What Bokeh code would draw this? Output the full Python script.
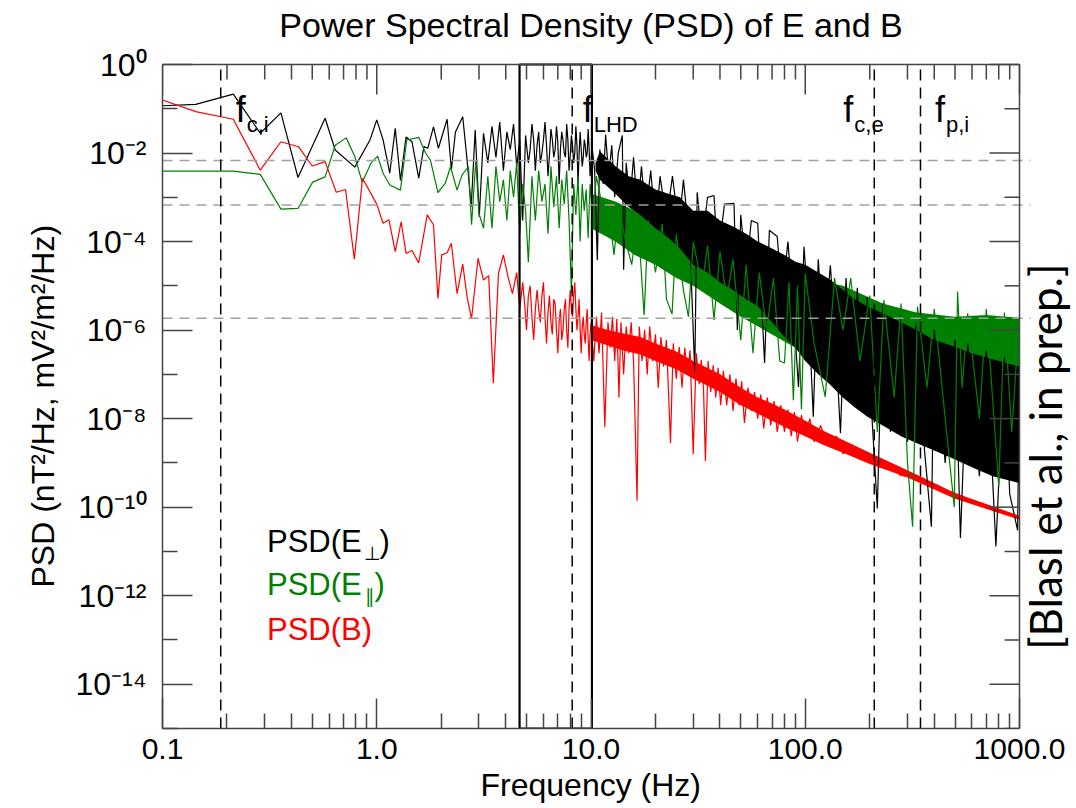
import math
from bokeh.plotting import figure
from bokeh.models import Label, FixedTicker, Title
from bokeh.embed import file_html
from bokeh.resources import INLINE

# ---------------- data ----------------
# PSD(E_perp), black: (frequency [Hz], PSD)
eperp = [
    (0.1, 0.117), (0.143, 0.126), (0.214, 0.215), (0.286, 0.028), (0.357, 0.081),
    (0.429, 0.0028), (0.574, 0.061), (0.64, 0.0117), (0.79, 0.0048), (0.93, 0.0197),
    (1.0, 0.056), (1.07, 0.02), (1.15, 0.0035), (1.22, 0.036), (1.29, 0.0024),
    (1.37, 0.023), (1.46, 0.018), (1.57, 0.0027), (1.66, 0.014), (1.73, 0.0128),
    (1.84, 0.039), (1.94, 0.0128), (2.13, 0.058), (2.23, 0.0042), (2.33, 0.030),
    (2.52, 0.066), (2.64, 0.0069), (2.76, 0.00061), (2.88, 0.033), (3.01, 0.00036),
    (3.15, 0.028), (3.3, 0.006), (3.45, 0.04), (3.6, 0.008), (3.75, 0.05),
    (3.9, 0.004), (4.05, 0.03), (4.2, 0.012), (4.35, 0.045), (4.5, 0.005),
    (4.65, 0.02), (4.8, 0.0003), (4.95, 0.025), (5.1, 0.006), (5.2, 0.012),
    (5.3, 0.045), (5.4, 0.02), (5.5, 0.004), (5.6, 0.015), (5.7, 0.03),
    (5.8, 0.006), (5.9, 0.01), (6.0, 0.02), (6.1, 0.05), (6.2, 0.015),
    (6.3, 0.003), (6.4, 0.009), (6.5, 0.035), (6.6, 0.02), (6.7, 0.008),
    (6.8, 0.012), (6.9, 0.04), (7.0, 0.018), (7.1, 0.002), (7.2, 0.012),
    (7.3, 0.03), (7.4, 0.02), (7.5, 0.01), (7.6, 0.008), (7.7, 0.045),
    (7.8, 0.02), (7.9, 0.004), (8.0, 0.009), (8.1, 0.025), (8.2, 0.015),
    (8.3, 0.006), (8.4, 0.01), (8.5, 0.04), (8.6, 0.015), (8.7, 0.002),
    (8.8, 0.01), (8.9, 0.03), (9.0, 0.012), (9.1, 0.005), (9.2, 0.008),
    (9.3, 0.02), (9.4, 0.015), (9.5, 0.008), (9.6, 0.01), (9.7, 0.035),
    (9.8, 0.012), (9.9, 0.003), (10.0, 0.006), (10.1, 0.015), (10.4, 0.004),
    (10.7, 3.8e-5), (11.0, 0.012), (11.4, 0.002), (11.7, 0.026), (12.1, 0.003),
    (12.5, 0.015), (12.9, 0.001), (13.4, 0.01), (14.0, 0.025), (14.2, 2.3e-5),
    (14.6, 0.006), (15.2, 0.0008), (15.8, 0.008), (16.5, 0.0005), (17.2, 0.005),
    (18.0, 0.0004), (19.0, 0.004), (20.0, 0.0002), (21.0, 0.003), (22.5, 0.0003),
    (24.0, 0.003), (25.7, 0.0002), (27.0, 0.0025), (29.0, 0.00008), (30.5, 1.1e-7),
    (31.3, 0.0013), (33.0, 0.0001), (35.0, 0.001), (37.5, 0.0011), (39.0, 0.00004),
    (42.0, 0.0007), (46.5, 0.00073), (48.2, 1e-6), (50.0, 0.0004), (53.0, 0.00002),
    (56.0, 0.0003), (60.0, 0.00026), (62.0, 0.00001), (64.6, 1.8e-7), (68.0, 0.00018),
    (74.0, 0.00013), (78.0, 5e-6), (83.0, 0.0001), (88.0, 3e-6), (93.0, 5.2e-8),
    (98.7, 7.6e-5), (104.0, 2e-6), (109.0, 1.1e-8), (115.0, 4e-5), (122.0, 5e-7),
    (131.0, 2.9e-5), (140.0, 2e-7), (146.0, 4.7e-9), (155.0, 1.5e-5), (165.0, 5e-8),
    (175.0, 9e-6), (185.0, 2e-8), (195.0, 5.6e-6), (205.0, 1e-8), (217.0, 9.3e-11),
    (230.0, 4e-6), (250.0, 5e-9), (279.0, 2.4e-6), (300.0, 3e-9), (330.0, 1.5e-6),
    (360.0, 2e-9), (388.0, 3.6e-11), (400.0, 1e-6), (450.0, 1e-9), (500.0, 6e-7),
    (530.0, 2e-11), (573.0, 5e-7), (650.0, 5e-10), (700.0, 3.5e-7), (776.0, 1.3e-11),
    (850.0, 2.5e-7), (900.0, 2e-10), (980.0, 3e-11), (1000.0, 1.8e-7),
]
# dense core of the black band: frequency, lower, upper
eperp_band_f = [10.5, 11.0, 13.0, 15.0, 17.0, 20.0, 23.0, 26.0, 30.0,
                35.0, 40.0, 46.0, 53.0, 60.0, 70.0, 80.0, 90.0, 100.0, 115.0, 130.0, 150.0,
                170.0, 195.0, 230.0, 280.0, 330.0, 400.0, 480.0, 600.0, 750.0, 1000.0]
eperp_band_lo = [4e-3, 2.5e-3, 1.2e-3, 6e-4, 4e-4, 2e-4, 1.2e-4,
                 7e-5, 3e-5, 2e-5, 1.2e-5, 8e-6, 5e-6, 3.5e-6, 1.5e-6, 7e-7, 4e-7, 2e-7, 1e-7,
                 6e-8, 3e-8, 1.8e-8, 1.1e-8, 7e-9, 4e-9, 2.8e-9, 1.9e-9, 1.3e-9, 8e-10, 5e-10, 3.5e-10]
eperp_band_hi = [6e-3, 0.011, 5e-3, 3e-3, 2.5e-3, 1.5e-3, 1.2e-3,
                 1e-3, 5e-4, 5e-4, 3e-4, 2.2e-4, 1.5e-4, 1e-4, 7e-5, 5e-5, 3.5e-5, 3e-5, 2e-5,
                 1.4e-5, 8e-6, 5e-6, 3.4e-6, 2.4e-6, 1.5e-6, 1e-6, 6e-7, 4.5e-7, 3e-7, 2.2e-7, 1.5e-7]

# PSD(E_par), green
epar = [
    (0.1, 3.9e-3), (0.214, 3.9e-3), (0.286, 3.3e-3), (0.357, 5.4e-4), (0.429, 5.6e-4),
    (0.502, 2.2e-3), (0.574, 2.9e-3), (0.64, 0.015), (0.72, 0.022), (0.79, 8.3e-3),
    (0.855, 2.2e-3), (0.94, 5.9e-3), (1.01, 8.5e-3), (1.07, 3.5e-3), (1.15, 1.9e-3),
    (1.29, 1.45e-3), (1.38, 0.0197), (1.57, 0.0226), (1.69, 0.01), (1.78, 6.9e-3),
    (1.93, 1.27e-3), (2.09, 2.1e-3), (2.21, 4.9e-3), (2.37, 1.45e-3), (2.5, 3.2e-3),
    (2.68, 4.9e-3), (2.77, 2.4e-4), (2.9, 6.9e-3), (3.0, 4.3e-4), (3.15, 2.0e-4),
    (3.3, 3e-3), (3.45, 2e-4), (3.6, 5e-3), (3.75, 8e-4), (3.9, 2.5e-3),
    (4.05, 3e-4), (4.2, 4e-3), (4.35, 1e-3), (4.5, 6e-3), (4.65, 1.5e-4),
    (4.8, 2e-3), (4.95, 5e-4), (5.1, 3.4e-5), (5.3, 3e-3), (5.5, 3e-4),
    (5.7, 4e-3), (5.9, 8e-4), (6.1, 2e-3), (6.3, 1.5e-4), (6.5, 5e-3),
    (6.7, 6e-4), (6.9, 3e-3), (7.1, 2e-4), (7.3, 2.5e-3), (7.5, 7e-4),
    (7.7, 4e-3), (7.9, 3e-4), (8.1, 6.8e-6), (8.3, 2e-3), (8.5, 4e-4),
    (8.7, 3e-3), (8.9, 1e-4), (9.1, 2e-3), (9.3, 5e-4), (9.5, 1.5e-3),
    (9.7, 1.2e-4), (9.9, 2e-3), (10.2, 4e-4), (10.6, 3e-3), (11.0, 1.2e-3),
    (11.5, 2e-4), (12.0, 8e-4), (12.8, 5e-5), (13.5, 6e-4), (14.5, 1e-4),
    (15.5, 3e-5), (16.5, 4e-4), (17.7, 2.2e-6), (18.5, 3e-4), (20.0, 2e-5),
    (21.5, 2.5e-4), (22.5, 5e-6), (23.9, 2.3e-6), (25.0, 1.5e-4), (27.0, 8e-6),
    (28.5, 2e-6), (30.0, 1e-4), (33.0, 1e-5), (35.0, 8e-5), (37.5, 1.7e-6),
    (40.0, 6e-5), (43.0, 5e-6), (46.0, 4e-5), (50.0, 5.9e-7), (53.0, 3e-5),
    (57.0, 3e-7), (61.0, 2e-5), (66.0, 1e-6), (71.0, 1.5e-5), (76.0, 2e-7),
    (80.0, 1.8e-7), (84.0, 1.2e-5), (88.0, 2.6e-8), (92.0, 1e-5), (96.0, 1.6e-8),
    (100.0, 1.9e-5), (110.0, 5e-7), (124.0, 3.1e-8), (137.0, 1.5e-5), (150.0, 1e-6),
    (163.0, 1.5e-5), (180.0, 2e-7), (200.0, 6e-6), (217.0, 5e-9), (233.0, 4.8e-6),
    (260.0, 3e-8), (280.0, 4e-6), (300.0, 1e-9), (317.0, 3.6e-11), (334.0, 3.4e-6),
    (370.0, 5e-8), (400.0, 3e-6), (450.0, 1e-8), (496.0, 1e-10), (514.0, 7.4e-6),
    (540.0, 5e-8), (573.0, 2.4e-6), (650.0, 1e-8), (700.0, 3e-6), (800.0, 3e-10),
    (850.0, 2.5e-6), (920.0, 5e-9), (1000.0, 2.2e-6),
]
epar_band_f = [10.0, 13.0, 16.0, 20.0, 25.0, 30.0, 40.0, 50.0, 70.0, 100.0, 150.0, 230.0, 330.0, 500.0, 700.0, 1000.0]
epar_band_lo = [2e-4, 1e-4, 5e-5, 3e-5, 1.5e-5, 1e-5, 4e-6, 2e-6, 8e-7, 3e-7, 1e-7, 5e-8, 2e-8, 1e-8, 7e-9, 5e-9]
epar_band_hi = [1.2e-3, 8e-4, 5e-4, 3e-4, 2e-4, 1.5e-4, 8e-5, 5e-5, 3e-5, 1.5e-5, 1e-5, 4e-6, 2.5e-6, 2e-6, 2.2e-6, 1.9e-6]

# PSD(B), red
bfield = [
    (0.1, 0.158), (0.143, 0.086), (0.214, 0.058), (0.286, 4.1e-3), (0.357, 0.018),
    (0.431, 0.0139), (0.50, 5.1e-3), (0.574, 6.4e-3), (0.647, 1.3e-3), (0.715, 1.5e-3),
    (0.786, 4.0e-5), (0.858, 2.7e-3), (1.0, 7e-4), (1.07, 2.6e-4), (1.14, 3.1e-4),
    (1.22, 5.9e-5), (1.30, 2.8e-4), (1.37, 5.4e-5), (1.46, 6.3e-5), (1.57, 3.3e-5),
    (1.72, 4.0e-4), (1.84, 2.4e-4), (1.93, 5.2e-6), (2.01, 5.0e-5), (2.13, 5.6e-5),
    (2.23, 9.1e-5), (2.37, 6.7e-6), (2.52, 3.1e-5), (2.64, 5.6e-6), (2.77, 1.8e-6),
    (2.97, 4.2e-5), (3.15, 1.35e-5), (3.33, 1.7e-5), (3.5, 6.3e-8), (3.7, 1.9e-5),
    (3.9, 5.0e-5), (4.1, 1.6e-5), (4.3, 6.7e-6), (4.5, 2e-5), (4.65, 3e-6),
    (4.8, 1.2e-5), (4.9, 4e-6), (5.0, 1e-6), (5.1, 6e-6), (5.2, 1e-5), (5.3, 2e-6),
    (5.4, 6e-7), (5.5, 3e-6), (5.6, 8e-6), (5.7, 3e-6), (5.8, 1.5e-6),
    (5.9, 6e-6), (6.0, 1.2e-5), (6.1, 2e-6), (6.2, 5e-7), (6.3, 2.5e-6),
    (6.4, 6e-6), (6.5, 1.5e-6), (6.6, 8e-7), (6.7, 5e-6), (6.8, 4e-6),
    (6.9, 1e-6), (7.0, 3e-7), (7.1, 1.5e-6), (7.2, 3e-6), (7.3, 6e-7),
    (7.4, 1e-6), (7.5, 3e-6), (7.6, 5e-6), (7.7, 1e-6), (7.8, 4e-7),
    (7.9, 3e-6), (8.0, 8e-6), (8.1, 3e-6), (8.2, 2e-6), (8.3, 6e-6),
    (8.4, 1.2e-5), (8.5, 3e-6), (8.6, 1e-6), (8.7, 2e-6), (8.8, 5e-6),
    (8.9, 1e-6), (9.0, 3e-7), (9.1, 1.2e-6), (9.2, 2e-6), (9.3, 8e-7),
    (9.4, 5e-7), (9.5, 1.5e-6), (9.6, 3e-6), (9.7, 6e-7), (9.8, 2e-7),
    (9.9, 8e-7), (10.0, 1.5e-6), (10.3, 2e-7), (10.6, 2e-6), (10.9, 3e-7),
    (11.2, 2.5e-6), (11.6, 6.5e-9), (12.0, 1.5e-6), (12.3, 4e-7), (12.6, 2e-6),
    (12.9, 2e-7), (13.2, 1.8e-6), (13.5, 3e-8), (13.8, 1.5e-6), (14.2, 1e-7),
    (14.6, 1.2e-6), (15.0, 3e-7), (15.4, 1.5e-6), (15.8, 2e-7), (16.4, 1.4e-10),
    (16.8, 1.2e-6), (17.3, 2e-7), (17.8, 1e-6), (18.3, 1e-7), (18.8, 1.2e-6),
    (19.4, 2e-7), (20.0, 8e-7), (20.6, 5e-8), (21.2, 7e-7), (21.8, 1.5e-7),
    (22.5, 6e-7), (23.5, 2.8e-9), (24.2, 5e-7), (25.0, 8e-8), (25.8, 4.2e-7),
    (26.6, 5e-8), (27.4, 4e-7), (28.2, 1e-7), (29.0, 3.5e-7), (30.0, 1.6e-9),
    (31.0, 3e-7), (32.0, 6e-8), (32.7, 2.1e-7), (33.5, 5e-8), (34.2, 1.1e-9),
    (35.2, 2e-7), (36.2, 4e-8), (37.2, 1.6e-7), (38.2, 3e-8), (39.2, 1.4e-7),
    (40.3, 2e-8), (41.5, 1.2e-7), (43.0, 2e-8), (44.5, 1e-7), (46.0, 1.5e-8),
    (47.5, 8e-8), (49.0, 2e-8), (50.5, 7e-8), (52.0, 8e-9), (54.0, 5e-8),
    (56.0, 1.5e-8), (58.0, 4e-8), (60.0, 1e-8), (62.0, 3.5e-8), (64.0, 6e-9),
    (66.5, 3e-8), (69.0, 7e-9), (71.5, 2.5e-8), (74.0, 5e-9), (77.0, 2e-8),
    (80.0, 5e-9), (83.0, 1.6e-8), (86.0, 4e-9), (89.0, 1.4e-8), (92.0, 3e-9),
    (96.0, 1.2e-8), (100.0, 4e-9), (105.0, 1e-8), (110.0, 3e-9), (118.0, 7e-9),
    (127.0, 2.5e-9), (140.0, 4e-9), (150.0, 1.6e-9), (165.0, 2.6e-9), (180.0, 1.2e-9),
    (195.0, 1.6e-9), (220.0, 8e-10), (250.0, 8e-10), (279.0, 5.2e-10), (330.0, 4.6e-10),
    (400.0, 2.7e-10), (480.0, 2.2e-10), (573.0, 1.5e-10), (700.0, 1.1e-10), (850.0, 7.5e-11),
    (1000.0, 6e-11),
]
b_band_f = [10.0, 12.0, 14.0, 17.0, 20.0, 25.0, 30.0, 35.0, 40.0, 50.0,
            60.0, 70.0, 80.0, 100.0, 120.0, 150.0, 200.0, 300.0, 500.0, 1000.0]
b_band_lo = [6e-7, 4.5e-7, 3.5e-7, 2.8e-7, 2e-7, 1.3e-7, 8e-8, 5.5e-8, 4e-8,
             2e-8, 1.3e-8, 9e-9, 6.5e-9, 4e-9, 2.6e-9, 1.7e-9, 9.5e-10, 4.7e-10, 1.55e-10, 5.2e-11]
b_band_hi = [1.3e-6, 1e-6, 8.5e-7, 7e-7, 5e-7, 3.3e-7, 2e-7, 1.4e-7, 1e-7,
             5e-8, 3e-8, 2.2e-8, 1.6e-8, 9e-9, 5.5e-9, 3.3e-9, 1.7e-9, 6.8e-10, 2.1e-10, 6.4e-11]

# characteristic frequencies [Hz]
f_ci = 0.187
f_lhd = 8.17
f_ce = 210.0
f_pi = 345.0
lhd_box_left = 4.64
lhd_box_right = 10.1
# grey reference levels
ref_levels = [6.8e-3, 6.7e-4, 1.85e-6]

x_tick_values = [0.1, 1.0, 10.0, 100.0, 1000.0]
x_tick_labels = ["0.1", "1.0", "10.0", "100.0", "1000.0"]
y_tick_exponents = [0, -2, -4, -6, -8, -10, -12, -14]
citation = "[Blasl et al., in prep.]"

BLACK = "#000000"
GREEN = "#008000"
RED = "#ff0000"
AXC = "#444444"
FONT = "Liberation Sans"
SUPS = {"0": "\u2070", "1": "\u00b9", "2": "\u00b2", "3": "\u00b3", "4": "\u2074", "5": "\u2075",
        "6": "\u2076", "7": "\u2077", "8": "\u2078", "9": "\u2079", "-": "\u207b"}

# ---------------- layout geometry ----------------
W, H = 1076, 808
BOX_L, BOX_R, BOX_T, BOX_B = 162, 1019, 64, 728   # the axes box in page pixels
X_LO, X_HI = 0.1, 1000.0
Y_LO, Y_HI = 1e-15, 1.0
# The plotting frame reaches the right and top page edges so that texts placed
# there are not clipped; the ranges are stretched so that the axes box stays put.
x_end = 10 ** (math.log10(X_LO) + math.log10(X_HI / X_LO) * (W - BOX_L) / (BOX_R - BOX_L))
y_end = 10 ** (math.log10(Y_HI) + math.log10(Y_HI / Y_LO) * BOX_T / (BOX_B - BOX_T))
grey_end = 10 ** (math.log10(X_HI) + math.log10(X_HI / X_LO) * 11 / (BOX_R - BOX_L))
# labels are anchored on the middle of their text box; shift to put the baseline on the anchor
BASE_SHIFT = {FONT: 0.347, "Lato": 0.387}


def unzip(pairs):
    return [a for a, _ in pairs], [b for _, b in pairs]


p = figure(width=W, height=H, x_axis_type="log", y_axis_type="log",
           x_range=(X_LO, x_end), y_range=(Y_LO, y_end), title=None,
           output_backend="svg", toolbar_location=None,
           min_border_left=BOX_L, min_border_right=0, min_border_top=0, min_border_bottom=H - BOX_B)
p.xgrid.visible = False
p.ygrid.visible = False
p.background_fill_color = "white"
p.border_fill_color = "white"
p.outline_line_color = None

x_minor = [m * 10.0 ** e for e in range(-1, 3) for m in range(2, 10)]
y_major = [10.0 ** e for e in y_tick_exponents]
y_minor = [10.0 ** e for e in range(-1, -16, -2)]


def style_axis(ax):
    ax.axis_line_color = AXC
    ax.axis_line_width = 1.5
    ax.major_tick_line_color = AXC
    ax.major_tick_line_width = 1.5
    ax.minor_tick_line_color = AXC
    ax.minor_tick_line_width = 1.5
    ax.major_tick_in = 30
    ax.major_tick_out = 0
    ax.minor_tick_in = 15
    ax.minor_tick_out = 0


# bottom axis
xa = p.xaxis[0]
xa.ticker = FixedTicker(ticks=x_tick_values, minor_ticks=x_minor)
xa.bounds = (X_LO, X_HI)
style_axis(xa)
xa.major_label_overrides = {v: s for v, s in zip(x_tick_values, x_tick_labels)}
xa.major_label_text_font = FONT
xa.major_label_text_font_size = "30px"
xa.major_label_text_color = "black"
xa.major_label_standoff = 10

# left axis
ya = p.yaxis[0]
ya.ticker = FixedTicker(ticks=y_major, minor_ticks=y_minor)
ya.bounds = (Y_LO, Y_HI)
style_axis(ya)
ya.major_label_overrides = {10.0 ** e: "10" + "".join(SUPS[c] for c in str(e)) for e in y_tick_exponents}
ya.major_label_text_font = FONT
ya.major_label_text_font_size = "32px"
ya.major_label_text_color = "black"
ya.major_label_standoff = 16

# axis titles, placed with left alignment plus an offset along the side
XLABEL = "Frequency (Hz)"
YLABEL = "PSD (nT\u00b2/Hz, mV\u00b2/m\u00b2/Hz)"
xlabel_width = 221      # approx. rendered width of XLABEL at 32px
p.add_layout(Title(text=XLABEL, align="left",
                   offset=(BOX_L + BOX_R) / 2 - xlabel_width / 2 - BOX_L,
                   text_font=FONT, text_font_size="32px", text_font_style="normal",
                   text_color="black", standoff=6), "below")
p.add_layout(Title(text=YLABEL, align="left", offset=141,
                   text_font=FONT, text_font_size="32px",
                   text_font_style="normal", text_color="black", standoff=23), "left")

# ---------------- spectra ----------------
gf, gv = unzip(epar)
rf, rv = unzip(bfield)
kf, kv = unzip(eperp)

p.varea(x=epar_band_f, y1=epar_band_lo, y2=epar_band_hi, color=GREEN)
p.varea(x=b_band_f, y1=b_band_lo, y2=b_band_hi, color=RED)
p.varea(x=eperp_band_f, y1=eperp_band_lo, y2=eperp_band_hi, color=BLACK)
p.line(kf, kv, line_color=BLACK, line_width=1.2)
p.line(gf, gv, line_color=GREEN, line_width=1.2)
p.line(rf, rv, line_color=RED, line_width=1.2)

# box around the LHD range
p.quad(left=[lhd_box_left], right=[lhd_box_right], bottom=[Y_LO], top=[Y_HI],
       fill_color=None, line_color=BLACK, line_width=2.2)

# grey reference levels
n = len(ref_levels)
p.segment(x0=[X_LO] * n, x1=[grey_end] * n, y0=ref_levels, y1=ref_levels,
          line_color="#a0a0a0", line_dash="10 7", line_width=1.5)
# characteristic frequencies
fl = [f_ci, f_lhd, f_ce, f_pi]
p.segment(x0=fl, x1=fl, y0=[Y_LO] * len(fl), y1=[Y_HI] * len(fl),
          line_color=BLACK, line_dash="11 7", line_width=1.5)

# top and right sides of the axes box, with inward ticks
p.segment(x0=[X_LO, X_HI], x1=[X_HI, X_HI], y0=[Y_HI, Y_LO], y1=[Y_HI, Y_HI],
          line_color=AXC, line_width=1.5)
p.ray(x=x_tick_values, y=[Y_HI] * len(x_tick_values), length=30, angle=-math.pi / 2,
      length_units="screen", line_color=AXC, line_width=1.5)
p.ray(x=x_minor, y=[Y_HI] * len(x_minor), length=15, angle=-math.pi / 2,
      length_units="screen", line_color=AXC, line_width=1.5)
p.ray(x=[X_HI] * len(y_major), y=y_major, length=30, angle=math.pi,
      length_units="screen", line_color=AXC, line_width=1.5)
p.ray(x=[X_HI] * len(y_minor), y=y_minor, length=15, angle=math.pi,
      length_units="screen", line_color=AXC, line_width=1.5)


def lab(x, y, text, size, color="black", xo=0, yo=0, align="left", font=FONT, rotated=False):
    shift = BASE_SHIFT[font] * size
    if rotated:
        xo, angle = xo - shift, math.pi / 2
    else:
        yo, angle = yo + shift, 0.0
    p.add_layout(Label(x=x, y=y, text=text, x_offset=xo, y_offset=yo,
                       text_font=font, text_font_size=f"{size}px", text_color=color,
                       text_align=align, text_baseline="alphabetic", angle=angle))


# plot title (centred on the axes box)
lab(math.sqrt(X_LO * X_HI), Y_HI, "Power Spectral Density (PSD) of E and B", 34,
    yo=27.5, align="center")

# characteristic-frequency annotations
for fv, sub, xo in [(f_ci, "c,i", 15), (f_lhd, "LHD", 10.5), (f_ce, "c,e", -31), (f_pi, "p,i", 14.5)]:
    lab(fv, Y_HI, "f", 36, xo=xo, yo=-57.5)
    lab(fv, Y_HI, sub, 22, xo=xo + 11, yo=-67.5)

# legend (text only)
lab(X_LO, Y_LO, "PSD(E", 31, color=BLACK, xo=104.5, yo=176)
lab(X_LO, Y_LO, "\u22a5", 19, color=BLACK, xo=201, yo=168)
lab(X_LO, Y_LO, ")", 31, color=BLACK, xo=217, yo=176)
lab(X_LO, Y_LO, "PSD(E", 31, color=GREEN, xo=104.5, yo=133)
lab(X_LO, Y_LO, "\u2225", 19, color=GREEN, xo=202, yo=125)
lab(X_LO, Y_LO, ")", 31, color=GREEN, xo=212, yo=133)
lab(X_LO, Y_LO, "PSD(B)", 31, color=RED, xo=104.5, yo=88)

# citation, reading bottom to top, right of the axes box
lab(X_HI, 10 ** -8.86, citation, 44, xo=43, align="center", font="Lato", rotated=True)

open("out.html", "w").write(file_html(p, INLINE))
